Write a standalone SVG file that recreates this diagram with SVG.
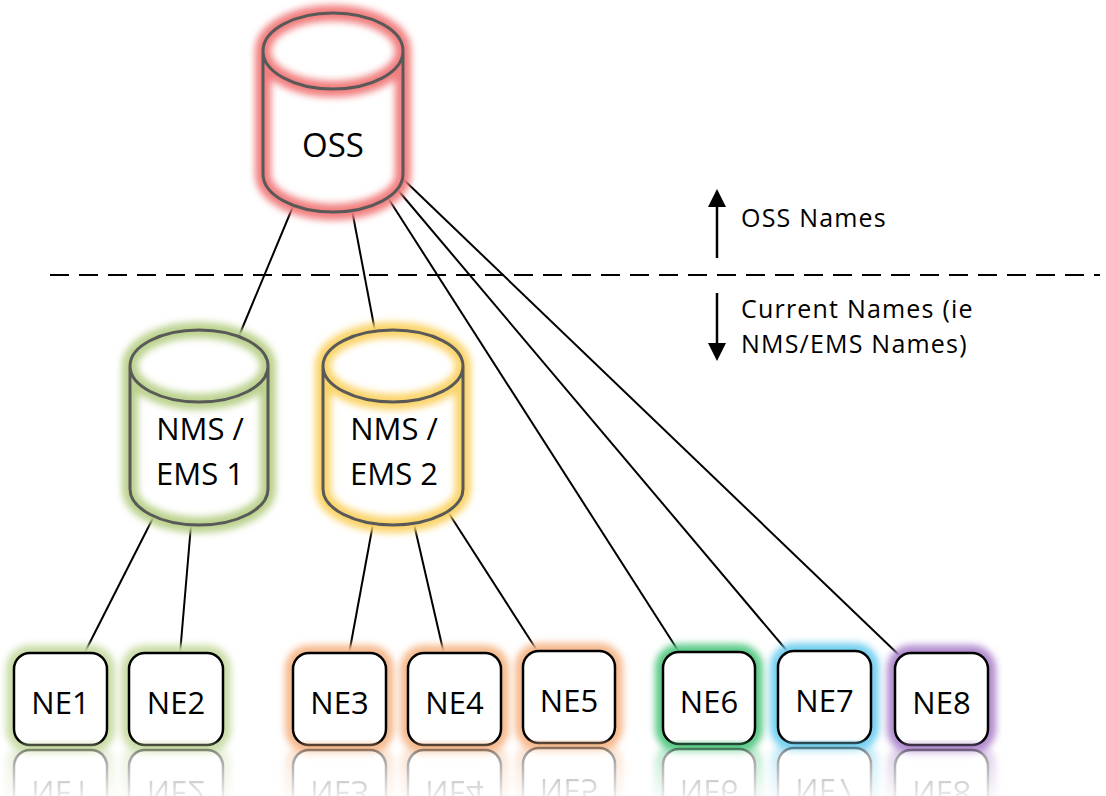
<svg xmlns="http://www.w3.org/2000/svg" xmlns:xlink="http://www.w3.org/1999/xlink" width="1106" height="796" viewBox="0 0 1106 796">
  <defs>
    <style>
      .lbl { font-family: "Open Sans", "Liberation Sans", sans-serif; fill: #000; text-anchor: middle; }
      .side { font-family: "Open Sans", "Liberation Sans", sans-serif; fill: #000; font-size: 25px; letter-spacing: 1.2px; }
      .cyl { fill: none; stroke: #595959; stroke-width: 3; stroke-linejoin: round; }
      .cylfill { fill: #fff; stroke: none; }
      .glow { fill: none; stroke-width: 16; filter: url(#soft); }
      .box { fill: #fff; stroke: #000; stroke-width: 2.5; }
      .link { stroke: #000; stroke-width: 2; fill: none; }
      .g-red { stroke: #f27f7f; }
      .g-olive { stroke: #bcd28e; }
      .g-yellow { stroke: #fbd46a; }
      .g-lgreen { stroke: #cbdda8; }
      .g-orange { stroke: #f6ba8e; }
      .g-green { stroke: #5ccb88; }
      .g-blue { stroke: #74d0f0; }
      .g-purple { stroke: #b18ccf; }
    </style>
    <filter id="soft" x="-30%" y="-30%" width="160%" height="160%">
      <feGaussianBlur stdDeviation="3.5"/>
    </filter>
    <marker id="head" viewBox="0 0 20 18" refX="2" refY="9" markerWidth="20" markerHeight="18" markerUnits="userSpaceOnUse" orient="auto">
      <path d="M0,0 L18,9 L0,18 Z" fill="#000"/>
    </marker>
    <linearGradient id="fade" gradientUnits="userSpaceOnUse" x1="0" y1="745" x2="0" y2="800">
      <stop offset="0" stop-color="#fff" stop-opacity="0.45"/>
      <stop offset="1" stop-color="#fff" stop-opacity="0.05"/>
    </linearGradient>
    <mask id="reflectMask" maskUnits="userSpaceOnUse" x="0" y="740" width="1106" height="60">
      <rect x="0" y="740" width="1106" height="60" fill="url(#fade)"/>
    </mask>
  </defs>

  <rect width="1106" height="796" fill="#fff"/>

  <!-- connectors -->
  <g id="connectors">
    <line class="link" x1="294" y1="204" x2="239" y2="336"/>
    <line class="link" x1="352" y1="210" x2="375" y2="331"/>
    <line class="link" x1="388" y1="198" x2="679" y2="652"/>
    <line class="link" x1="397" y1="189" x2="788" y2="652"/>
    <line class="link" x1="403" y1="179" x2="899" y2="655"/>
    <line class="link" x1="153" y1="518" x2="84" y2="654"/>
    <line class="link" x1="191" y1="525" x2="180" y2="654"/>
    <line class="link" x1="373" y1="524" x2="349" y2="654"/>
    <line class="link" x1="414" y1="524" x2="444" y2="654"/>
    <line class="link" x1="448" y1="512" x2="538" y2="652"/>
  </g>

  <!-- boundary between naming domains -->
  <g id="divider">
    <line x1="50" y1="275" x2="1100" y2="275" stroke="#000" stroke-width="2.2" stroke-dasharray="19 10"/>
    <line x1="717" y1="258" x2="717" y2="205" stroke="#000" stroke-width="2.5" marker-end="url(#head)"/>
    <line x1="717" y1="293" x2="717" y2="345" stroke="#000" stroke-width="2.5" marker-end="url(#head)"/>
    <text class="side" x="741" y="227">OSS Names</text>
    <text class="side" x="741" y="318">Current Names (ie</text>
    <text class="side" x="741" y="353">NMS/EMS Names)</text>
  </g>

  <!-- OSS database -->
  <g id="oss">
    <path class="cylfill" d="M263,51 A70,38 0 0 1 403,51 L403,174 A70,38 0 0 1 263,174 Z"/>
    <path class="glow g-red" d="M263,51 A70,38 0 0 1 403,51 L403,174 A70,38 0 0 1 263,174 Z M263,51 A70,38 0 0 0 403,51"/>
    <path class="cyl" d="M263,51 A70,38 0 0 1 403,51 L403,174 A70,38 0 0 1 263,174 Z M263,51 A70,38 0 0 0 403,51"/>
    <text class="lbl" x="333" y="157" font-size="33">OSS</text>
  </g>

  <!-- NMS / EMS 1 -->
  <g id="nms1">
    <path class="cylfill" d="M130,366 A69,36 0 0 1 268,366 L268,489 A69,36 0 0 1 130,489 Z"/>
    <path class="glow g-olive" d="M130,366 A69,36 0 0 1 268,366 L268,489 A69,36 0 0 1 130,489 Z M130,366 A69,36 0 0 0 268,366"/>
    <path class="cyl" d="M130,366 A69,36 0 0 1 268,366 L268,489 A69,36 0 0 1 130,489 Z M130,366 A69,36 0 0 0 268,366"/>
    <text class="lbl" x="200" y="440" font-size="31">NMS /</text>
    <text class="lbl" x="200" y="485" font-size="31">EMS 1</text>
  </g>

  <!-- NMS / EMS 2 -->
  <g id="nms2">
    <path class="cylfill" d="M323,366 A70,36 0 0 1 463,366 L463,489 A70,36 0 0 1 323,489 Z"/>
    <path class="glow g-yellow" d="M323,366 A70,36 0 0 1 463,366 L463,489 A70,36 0 0 1 323,489 Z M323,366 A70,36 0 0 0 463,366"/>
    <path class="cyl" d="M323,366 A70,36 0 0 1 463,366 L463,489 A70,36 0 0 1 323,489 Z M323,366 A70,36 0 0 0 463,366"/>
    <text class="lbl" x="394" y="440" font-size="31">NMS /</text>
    <text class="lbl" x="394" y="485" font-size="31">EMS 2</text>
  </g>

  <!-- network elements -->
  <g id="ne1">
    <rect class="glow g-lgreen" x="14" y="653" width="93" height="92" rx="16"/>
    <rect class="box" x="14" y="653" width="93" height="92" rx="16"/>
    <text class="lbl" x="60.5" y="714" font-size="31">NE1</text>
  </g>
  <g id="ne2">
    <rect class="glow g-lgreen" x="129" y="653" width="94" height="92" rx="16"/>
    <rect class="box" x="129" y="653" width="94" height="92" rx="16"/>
    <text class="lbl" x="176" y="714" font-size="31">NE2</text>
  </g>
  <g id="ne3">
    <rect class="glow g-orange" x="293" y="653" width="93" height="92" rx="16"/>
    <rect class="box" x="293" y="653" width="93" height="92" rx="16"/>
    <text class="lbl" x="339.5" y="714" font-size="31">NE3</text>
  </g>
  <g id="ne4">
    <rect class="glow g-orange" x="408" y="653" width="93" height="92" rx="16"/>
    <rect class="box" x="408" y="653" width="93" height="92" rx="16"/>
    <text class="lbl" x="454.5" y="714" font-size="31">NE4</text>
  </g>
  <g id="ne5">
    <rect class="glow g-orange" x="523" y="651" width="92" height="92" rx="16"/>
    <rect class="box" x="523" y="651" width="92" height="92" rx="16"/>
    <text class="lbl" x="569" y="712" font-size="31">NE5</text>
  </g>
  <g id="ne6">
    <rect class="glow g-green" x="663" y="652" width="92" height="92" rx="16"/>
    <rect class="box" x="663" y="652" width="92" height="92" rx="16"/>
    <text class="lbl" x="709" y="713" font-size="31">NE6</text>
  </g>
  <g id="ne7">
    <rect class="glow g-blue" x="778" y="651" width="93" height="92" rx="16"/>
    <rect class="box" x="778" y="651" width="93" height="92" rx="16"/>
    <text class="lbl" x="824.5" y="712" font-size="31">NE7</text>
  </g>
  <g id="ne8">
    <rect class="glow g-purple" x="895" y="653" width="93" height="92" rx="16"/>
    <rect class="box" x="895" y="653" width="93" height="92" rx="16"/>
    <text class="lbl" x="941.5" y="714" font-size="31">NE8</text>
  </g>

  <!-- mirrored, fading copies of the network elements -->
  <g id="reflections" mask="url(#reflectMask)">
    <use xlink:href="#ne1" href="#ne1" transform="matrix(1 0 0 -1 0 1495)"/>
    <use xlink:href="#ne2" href="#ne2" transform="matrix(1 0 0 -1 0 1495)"/>
    <use xlink:href="#ne3" href="#ne3" transform="matrix(1 0 0 -1 0 1495)"/>
    <use xlink:href="#ne4" href="#ne4" transform="matrix(1 0 0 -1 0 1495)"/>
    <use xlink:href="#ne5" href="#ne5" transform="matrix(1 0 0 -1 0 1491)"/>
    <use xlink:href="#ne6" href="#ne6" transform="matrix(1 0 0 -1 0 1493)"/>
    <use xlink:href="#ne7" href="#ne7" transform="matrix(1 0 0 -1 0 1491)"/>
    <use xlink:href="#ne8" href="#ne8" transform="matrix(1 0 0 -1 0 1495)"/>
  </g>
</svg>
